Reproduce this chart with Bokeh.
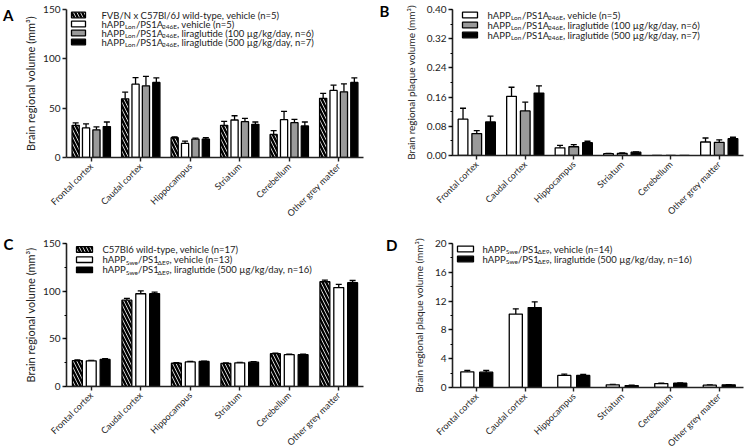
import math
from bokeh.plotting import figure
from bokeh.layouts import gridplot
from bokeh.models import (FactorRange, Range1d, Whisker, TeeHead, Label, BoxAnnotation, LinearAxis,
                          SingleIntervalTicker, FixedTicker, NumeralTickFormatter,
                          CustomJSTickFormatter, ColumnDataSource)
from bokeh.transform import dodge
from bokeh.embed import file_html
from bokeh.resources import INLINE

FONT = "Lato"

regions = ["Frontal cortex", "Caudal cortex", "Hippocampus", "Striatum", "Cerebellum", "Other grey matter"]

# Panel A: brain regional volume (mm3), hAPPLon/PS1A246E study
a_wt = [32.6, 59.5, 20.0, 32.6, 23.3, 60.0]
a_wt_err = [2.4, 6.7, 1.0, 4.0, 4.0, 5.0]
a_veh = [30.0, 74.3, 14.3, 38.0, 38.3, 68.0]
a_veh_err = [4.0, 6.7, 2.3, 4.3, 8.4, 5.3]
a_l100 = [28.0, 72.6, 18.7, 36.3, 35.3, 66.6]
a_l100_err = [3.0, 9.7, 1.0, 3.3, 3.4, 8.0]
a_l500 = [31.3, 76.0, 18.7, 33.6, 32.0, 76.0]
a_l500_err = [4.7, 4.6, 1.3, 2.4, 4.0, 4.6]

# Panel B: brain regional plaque volume (mm3)
b_veh = [0.0995, 0.162, 0.021, 0.005, 0.0, 0.037]
b_veh_err = [0.030, 0.025, 0.007, 0.001, 0.0, 0.011]
b_l100 = [0.060, 0.122, 0.024, 0.006, 0.0, 0.036]
b_l100_err = [0.008, 0.024, 0.006, 0.001, 0.0, 0.007]
b_l500 = [0.092, 0.171, 0.035, 0.009, 0.0, 0.046]
b_l500_err = [0.016, 0.020, 0.004, 0.001, 0.0, 0.004]

# Panel C: brain regional volume (mm3), hAPPSwe/PS1dE9 study
c_wt = [27.2, 90.5, 24.4, 24.2, 34.4, 109.9]
c_wt_err = [0.8, 2.0, 0.5, 0.5, 0.7, 1.7]
c_veh = [26.9, 97.3, 25.8, 24.8, 33.4, 103.8]
c_veh_err = [0.6, 3.0, 0.5, 0.5, 0.5, 3.3]
c_lira = [28.3, 97.3, 26.2, 25.5, 33.4, 108.9]
c_lira_err = [0.8, 1.7, 0.5, 0.5, 0.5, 2.3]

# Panel D: brain regional plaque volume (mm3)
d_veh = [2.18, 10.2, 1.68, 0.37, 0.54, 0.32]
d_veh_err = [0.18, 0.73, 0.18, 0.05, 0.05, 0.04]
d_lira = [2.13, 11.1, 1.68, 0.27, 0.59, 0.37]
d_lira_err = [0.23, 0.80, 0.14, 0.05, 0.05, 0.04]

# Legend texts: list of (text, is_subscript) segments
lon_parts = [("hAPP", False), ("Lon", True), ("/PS1A", False), ("246E", True)]
swe_parts = [("hAPP", False), ("Swe", True), ("/PS1", False), ("\u0394E9", True)]
a_legend = [
    [("FVB/N x C57Bl/6J wild-type, vehicle (n=5)", False)],
    lon_parts + [(", vehicle (n=5)", False)],
    lon_parts + [(", liraglutide (100 \u00b5g/kg/day, n=6)", False)],
    lon_parts + [(", liraglutide (500 \u00b5g/kg/day, n=7)", False)],
]
b_legend = a_legend[1:]
c_legend = [
    [("C57Bl6 wild-type, vehicle (n=17)", False)],
    swe_parts + [(", vehicle (n=13)", False)],
    swe_parts + [(", liraglutide (500 \u00b5g/kg/day, n=16)", False)],
]
d_legend = [
    swe_parts + [(", vehicle (n=14)", False)],
    swe_parts + [(", liraglutide (500 \u00b5g/kg/day, n=16)", False)],
]

LON_X = [0, 23.5, 34.5, 60.5, 75.5]
SWE_X = [0, 23.5, 35.5, 55.0, 67.0]

STYLE = {
    "hatch": dict(fill_color="white", hatch_pattern="\\", hatch_color="black", hatch_weight=2.4, hatch_scale=7),
    "white": dict(fill_color="white"),
    "grey": dict(fill_color="#9a9a9a"),
    "black": dict(fill_color="black"),
}
TXT = "#222222"


def make_panel(series, errs, kinds, offsets, bar_w, y_end, interval, minor, fmt, ylabel, ylabel_size,
               ylabel_standoff, fw, fh, bl, br, bt, bb, legend, seg_x, sw_x, txt_x, rows_dy,
               letter, letter_dy, letter_standoff):
    p = figure(x_range=FactorRange(factors=regions, range_padding=0), y_range=Range1d(0, y_end),
               frame_width=fw, frame_height=fh, min_border_left=bl, min_border_right=br,
               min_border_top=bt, min_border_bottom=bb,
               output_backend="svg", toolbar_location=None, tools="")
    p.xgrid.visible = False
    p.ygrid.visible = False
    p.outline_line_color = None
    p.background_fill_color = "white"
    p.border_fill_color = "white"
    for vals, er, kind, off in zip(series, errs, kinds, offsets):
        src = ColumnDataSource(dict(region=regions, val=vals))
        p.vbar(x=dodge("region", off, range=p.x_range), top="val", width=bar_w, source=src,
               line_color="black", line_width=1.3, **STYLE[kind])
        keep = [i for i, e in enumerate(er) if e > 0]
        wsrc = ColumnDataSource(dict(region=[regions[i] for i in keep],
                                     val=[vals[i] for i in keep],
                                     up=[vals[i] + er[i] for i in keep]))
        p.add_layout(Whisker(source=wsrc, base=dodge("region", off, range=p.x_range),
                             lower="val", upper="up", line_color="black", line_width=1.3,
                             upper_head=TeeHead(size=6, line_color="black", line_width=1.3),
                             lower_head=None))
    ax = p.yaxis[0]
    ax.ticker = SingleIntervalTicker(interval=interval, num_minor_ticks=minor)
    if fmt:
        ax.formatter = NumeralTickFormatter(format=fmt)
    ax.axis_label = ylabel
    for a in (p.xaxis[0], p.yaxis[0]):
        a.axis_line_width = 1.6
        a.axis_line_color = TXT
        a.major_tick_line_width = 1.4
        a.major_tick_line_color = TXT
        a.major_tick_out = 4
        a.major_tick_in = 0
        a.minor_tick_out = 2
        a.minor_tick_in = 0
        a.minor_tick_line_width = 1.2
        a.major_label_text_font = FONT
        a.major_label_text_color = TXT
    ax.major_label_text_font_size = "10px"
    ax.major_label_standoff = 2
    ax.axis_label_text_font = FONT
    ax.axis_label_text_font_size = ylabel_size
    ax.axis_label_text_font_style = "normal"
    ax.axis_label_text_color = TXT
    ax.axis_label_standoff = ylabel_standoff
    xa = p.xaxis[0]
    xa.major_label_orientation = math.pi / 4
    xa.major_label_text_font_size = "9px"
    xa.major_label_standoff = 3

    # panel letter, drawn as the tick label of an extra (invisible) left axis
    letter_axis = LinearAxis(ticker=FixedTicker(ticks=[y_end * (1 - letter_dy / fh)]),
                             formatter=CustomJSTickFormatter(code='return "%s";' % letter),
                             axis_line_color=None, major_tick_line_color=None, minor_tick_line_color=None,
                             major_tick_out=0, major_label_standoff=letter_standoff,
                             major_label_text_font=FONT, major_label_text_font_size="15px",
                             major_label_text_font_style="bold", major_label_text_color="black")
    p.add_layout(letter_axis, "left")

    # legend (inside the frame)
    for row, dy, kind in zip(legend, rows_dy, kinds):
        yc = fh - dy
        st = STYLE[kind]
        p.add_layout(BoxAnnotation(left=sw_x[0], right=sw_x[1], bottom=yc - 2.8, top=yc + 2.8,
                                   left_units="screen", right_units="screen",
                                   bottom_units="screen", top_units="screen",
                                   line_color="black", line_width=1.3, line_alpha=1,
                                   fill_alpha=1, hatch_alpha=1, **st))
        xs = seg_x if len(row) > 1 else [0]
        for (txt, sub), xo in zip(row, xs):
            p.add_layout(Label(x=txt_x + xo, y=yc - (2.5 if sub else 0), x_units="screen", y_units="screen",
                               text=txt, text_font=FONT,
                               text_font_size="6.5px" if sub else "9.5px",
                               text_baseline="middle", text_align="left", text_color=TXT))
    return p


pa = make_panel([a_wt, a_veh, a_l100, a_l500], [a_wt_err, a_veh_err, a_l100_err, a_l500_err],
                ["hatch", "white", "grey", "black"], [-0.315, -0.105, 0.105, 0.315], 0.145,
                150, 50, 0, None, "Brain regional volume (mm\u00b3)", "11px", 3,
                297, 148, 66, 12, 5, 67, a_legend, LON_X, (5, 19), 35, [5.5, 14.5, 23.5, 32.5],
                "A", 5, 8)
pb = make_panel([b_veh, b_l100, b_l500], [b_veh_err, b_l100_err, b_l500_err],
                ["white", "grey", "black"], [-0.283, 0.0, 0.283], 0.2,
                0.40, 0.08, 2, "0.00", "Brain regional plaque volume (mm\u00b3)", "10px", 7,
                291, 146, 77, 7, 9, 65, b_legend, LON_X, (10, 25), 35, [5.5, 15.5, 25.5],
                "B", 1, 12)
pc = make_panel([c_wt, c_veh, c_lira], [c_wt_err, c_veh_err, c_lira_err],
                ["hatch", "white", "black"], [-0.28, 0.0, 0.28], 0.2,
                150, 50, 2, None, "Brain regional volume (mm\u00b3)", "11px", 3,
                297, 143, 66, 12, 20, 65, c_legend, SWE_X, (10, 26), 36, [6, 16.2, 26.4],
                "C", 0, 8)
pd_ = make_panel([d_veh, d_lira], [d_veh_err, d_lira_err],
                 ["white", "black"], [-0.195, 0.195], 0.27,
                 20, 4, 2, None, "Brain regional plaque volume (mm\u00b3)", "10px", 7,
                 291, 144, 77, 7, 19, 65, d_legend, SWE_X, (5, 21), 30, [5.5, 15.5],
                 "D", 1, 12)

grid = gridplot([[pa, pb], [pc, pd_]], toolbar_location=None)
open("out.html", "w").write(file_html(grid, INLINE))
